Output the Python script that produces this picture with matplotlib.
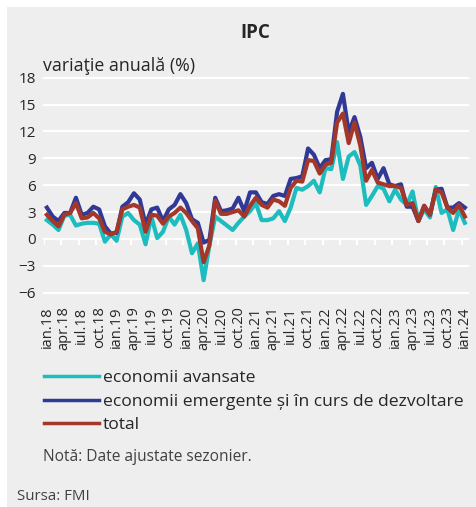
import numpy as np
import matplotlib.pyplot as plt
from matplotlib.patches import Rectangle

plt.rcParams['font.family'] = ['Open Sans', 'DejaVu Sans']

# monthly data, ian.18 - ian.24
avansate = [2.1, 1.6, 1.0, 2.6, 2.7, 1.5, 1.7, 1.8, 1.8, 1.7,
            -0.3, 0.5, -0.2, 2.5, 2.9, 2.1, 1.6, -0.6, 2.5, 0.1,
            0.8, 2.5, 1.6, 2.7, 1.0, -1.6, -0.5, -4.6, -0.7, 2.5,
            2.0, 1.5, 1.0, 1.8, 2.5, 3.1, 4.0, 2.1, 2.1, 2.3,
            3.1, 2.0, 3.5, 5.7, 5.5, 5.9, 6.5, 5.2, 7.9, 7.8,
            10.8, 6.7, 9.2, 9.7, 8.2, 3.8, 4.8, 5.9, 5.6, 4.2,
            5.5, 4.4, 3.8, 5.3, 2.0, 3.3, 2.4, 5.8, 2.9, 3.3,
            1.0, 3.3, 1.8]
emergente = [3.5, 2.5, 2.0, 2.9, 2.9, 4.6, 2.7, 2.9, 3.6, 3.3,
             1.4, 0.6, 0.7, 3.6, 4.1, 5.1, 4.4, 1.6, 3.3, 3.5,
             2.0, 3.3, 3.8, 5.0, 4.0, 2.2, 1.8, -0.4, -0.1, 4.6,
             3.1, 3.2, 3.4, 4.6, 3.1, 5.2, 5.2, 4.1, 3.9, 4.8,
             5.0, 4.8, 6.7, 6.8, 7.0, 10.1, 9.4, 7.9, 8.8, 8.9,
             14.2, 16.2, 11.9, 13.6, 11.4, 7.9, 8.5, 6.7, 7.9, 6.1,
             5.9, 6.1, 3.6, 3.6, 2.0, 3.7, 2.7, 5.5, 5.6, 3.5,
             3.5, 4.0, 3.5]
total = [2.7, 2.0, 1.4, 2.7, 2.9, 4.0, 2.3, 2.4, 2.9, 2.3,
         0.8, 0.5, 0.8, 3.3, 3.6, 3.8, 3.5, 0.8, 2.7, 2.6,
         1.7, 2.5, 2.9, 3.5, 2.9, 2.0, 1.2, -2.6, -0.7, 4.3,
         2.8, 2.8, 3.0, 3.2, 2.5, 3.7, 4.6, 3.8, 3.5, 4.4,
         4.2, 3.7, 5.7, 6.5, 6.4, 8.8, 8.7, 7.3, 8.3, 8.5,
         13.0, 14.0, 10.7, 13.0, 10.4, 6.5, 7.7, 6.3, 6.1, 5.9,
         5.9, 5.7, 3.8, 4.0, 2.0, 3.7, 2.7, 5.5, 5.2, 3.5,
         2.9, 3.8, 2.5]

luni = ['ian', 'apr', 'iul', 'oct']
ani = ['18', '19', '20', '21', '22', '23', '24']
etichete = [l + '.' + a for a in ani for l in luni][:25]
yticks = [-6, -3, 0, 3, 6, 9, 12, 15, 18]

bg = '#eeeeee'
W, H = 476, 507
fig = plt.figure(figsize=(W / 100, H / 100), dpi=100, facecolor='white')
fig.patches.append(Rectangle((7 / W, 0), 1, 1 - 7 / H, transform=fig.transFigure,
                             facecolor=bg, edgecolor='none', zorder=-10))

ax = fig.add_axes([44 / W, 1 - 292.7 / H, (467.7 - 44) / W, (292.7 - 77.7) / H])
ax.patch.set_alpha(0)
for s in ax.spines.values():
    s.set_visible(False)

x = np.arange(len(total))
for yv in yticks:
    ax.axhline(yv, color='white', lw=1.6, zorder=1, clip_on=False)
ax.vlines(np.arange(-0.5, 72, 3), -0.7, 0, color='white', lw=1.6, zorder=1)

ax.plot(x, avansate, color='#1cbcbf', lw=3.0, label='economii avansate', zorder=3)
ax.plot(x, emergente, color='#303a96', lw=3.0,
        label='economii emergente și în curs de dezvoltare', zorder=4)
ax.plot(x, total, color='#a3372a', lw=3.0, label='total', zorder=5)

ax.set_xlim(-0.5, 72.5)
ax.set_ylim(-6, 18)
ax.set_yticks(yticks)
ax.set_xticks(np.arange(0, 73, 3))
ax.set_xticklabels(etichete, rotation=90, fontsize=10.5, color='#262626')
ax.tick_params(axis='x', length=0, pad=10)
ax.tick_params(axis='y', length=0, pad=6, labelsize=11, labelcolor='#262626')

fig.text(255 / W, 1 - 33 / H, 'IPC', fontsize=13.5, fontweight='bold',
         ha='center', va='center', color='#262626')
fig.text(43 / W, 1 - 66 / H, 'variaţie anuală (%)', fontsize=12.8,
         ha='left', va='center', color='#262626')

leg = fig.legend(loc='upper left', bbox_to_anchor=(44 / W, 1 - 370 / H), frameon=False,
                 fontsize=12.6, handlelength=3.15, handletextpad=0.22, labelspacing=0.42,
                 borderpad=0, borderaxespad=0, labelcolor='#262626')
for ln in leg.get_lines():
    ln.set_linewidth(2.5)

fig.text(43 / W, 1 - 457 / H, 'Notă: Date ajustate sezonier.', fontsize=11.2,
         ha='left', va='center', color='#404040')
fig.text(17 / W, 1 - 497 / H, 'Sursa: FMI', fontsize=10.8,
         ha='left', va='center', color='#404040')

fig.savefig('out.png', dpi=100, facecolor=fig.get_facecolor())
